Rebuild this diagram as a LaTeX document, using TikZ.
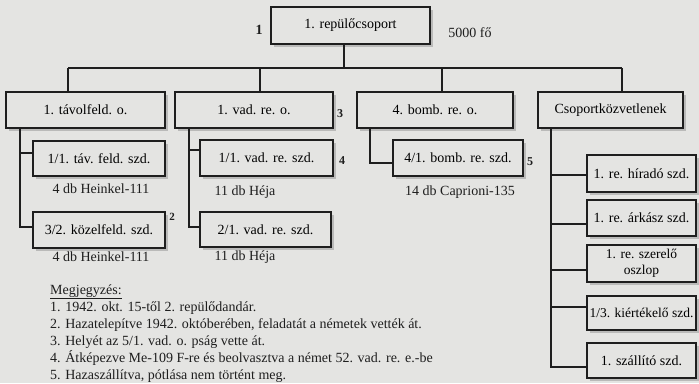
\documentclass[tikz,border=0pt]{standalone}
\usepackage{fontspec}
\setmainfont{Liberation Serif}
\usetikzlibrary{shadows}
\definecolor{bg}{RGB}{228,228,226}
\definecolor{ink}{RGB}{30,30,30}
\begin{document}
\begin{tikzpicture}[x=1pt,y=-1pt,
  box/.style={draw=ink, line width=1.4pt, fill=bg, inner sep=0pt, align=center,
    font=\fontsize{14}{15}\selectfont,
    drop shadow={shadow xshift=3pt, shadow yshift=-3pt, fill=black, opacity=0.18}},
  conn/.style={draw=ink, line width=1.1pt},
  lbl/.style={inner sep=0pt, text=ink, font=\fontsize{14}{15}\selectfont},
  fnmark/.style={inner sep=0pt, text=ink, font=\bfseries\fontsize{12}{13}\selectfont},
  note/.style={inner sep=0pt, anchor=base west, text=ink, font=\fontsize{14}{15}\selectfont}]
\useasboundingbox (0,0) rectangle (699,383);
\fill[bg] (0,0) rectangle (699,383);

% top
\node[box, line width=2.2pt, minimum width=159pt, minimum height=37pt] (top) at (350.5,25.5) {1. repülőcsoport};
\node[fnmark, font=\bfseries\fontsize{14}{15}\selectfont] (m1) at (259,30) {1};
\node[lbl] (fo) at (470,33) {5000 fő};

% level 2
\node[box, minimum width=159pt, minimum height=36pt] (A) at (85.5,110) {1. távolfeld. o.};
\node[box, minimum width=158pt, minimum height=36pt] (B) at (254,110) {1. vad. re. o.};
\node[box, minimum width=156pt, minimum height=36pt] (C) at (435,110) {4. bomb. re. o.};
\node[box, minimum width=145pt, minimum height=36pt] (D) at (610.5,110) {Csoportközvetlenek};
\node[fnmark] (m3) at (340,114) {3};

% bar
\coordinate (j0) at (344,68);
\coordinate (b1) at (68,68);
\coordinate (b2) at (260,68);
\coordinate (b3) at (442,68);
\coordinate (b4) at (622,68);
\draw[conn] (top.south -| j0) -- (j0);
\draw[conn] (b1) -- (b4);
\draw[conn] (b1) -- (b1 |- A.north);
\draw[conn] (b2) -- (b2 |- B.north);
\draw[conn] (b3) -- (b3 |- C.north);
\draw[conn] (b4) -- (b4 |- D.north);

% A children
\node[box, minimum width=132pt, minimum height=35pt] (A1) at (99,158.5) {1/1. táv. feld. szd.};
\node[box, minimum width=132pt, minimum height=36pt] (A2) at (99,230) {3/2. közelfeld. szd.};
\node[lbl] (A1t) at (101,189) {4 db Heinkel-111};
\node[lbl] (A2t) at (101,257) {4 db Heinkel-111};
\node[fnmark, font=\bfseries\fontsize{11}{12}\selectfont] (m2) at (172,217) {2};
\coordinate (ax) at (20,0);
\draw[conn] (A.south -| ax) -- (20,227) -- (A2.west |- 20,227);
\draw[conn] (20,153) -- (A1.west |- 20,153);

% B children
\node[box, minimum width=133pt, minimum height=36pt] (B1) at (266.5,158) {1/1. vad. re. szd.};
\node[box, minimum width=131pt, minimum height=35pt] (B2) at (265.5,229.5) {2/1. vad. re. szd.};
\node[lbl] (B1t) at (245,192) {11 db Héja};
\node[lbl] (B2t) at (245,257) {11 db Héja};
\node[fnmark] (m4) at (342,161) {4};
\coordinate (bx) at (189,0);
\draw[conn] (B.south -| bx) -- (189,227) -- (B2.west |- 189,227);
\draw[conn] (189,150) -- (B1.west |- 189,150);

% C children
\node[box, minimum width=130pt, minimum height=36pt] (C1) at (458,158) {4/1. bomb. re. szd.};
\node[lbl] (C1t) at (460,192) {14 db Caprioni-135};
\node[fnmark] (m5) at (530,162) {5};
\coordinate (cx) at (370,0);
\draw[conn] (C.south -| cx) -- (370,163) -- (C1.west |- 370,163);

% D children
\node[box, minimum width=109pt, minimum height=37pt] (D1) at (641.5,173.5) {1. re. híradó szd.};
\node[box, minimum width=109pt, minimum height=36pt] (D2) at (641.5,218) {1. re. árkász szd.};
\node[box, minimum width=109pt, minimum height=37pt, font=\fontsize{13.5}{16}\selectfont] (D3) at (641.5,263.5) {1. re. szerelő\\oszlop};
\node[box, minimum width=109pt, minimum height=34pt, font=\fontsize{13.5}{15}\selectfont] (D4) at (641.5,313) {1/3. kiértékelő szd.};
\node[box, minimum width=109pt, minimum height=35pt] (D5) at (641.5,360.5) {1. szállító szd.};
\coordinate (dx) at (551,0);
\draw[conn] (D.south -| dx) -- (551,367) -- (D5.west |- 551,367);
\draw[conn] (551,175) -- (D1.west |- 551,175);
\draw[conn] (551,224) -- (D2.west |- 551,224);
\draw[conn] (551,270) -- (D3.west |- 551,270);
\draw[conn] (551,307) -- (D4.west |- 551,307);

% notes
\node[note] (n0) at (50,294) {\underline{Megjegyzés:}};
\node[note] (n1) at (50,311) {1. 1942. okt. 15-től 2. repülődandár.};
\node[note] (n2) at (50,328) {2. Hazatelepítve 1942. októberében, feladatát a németek vették át.};
\node[note] (n3) at (50,345) {3. Helyét az 5/1. vad. o. pság vette át.};
\node[note] (n4) at (50,362) {4. Átképezve Me-109 F-re és beolvasztva a német 52. vad. re. e.-be};
\node[note] (n5) at (50,379) {5. Hazaszállítva, pótlása nem történt meg.};
\end{tikzpicture}
\end{document}
